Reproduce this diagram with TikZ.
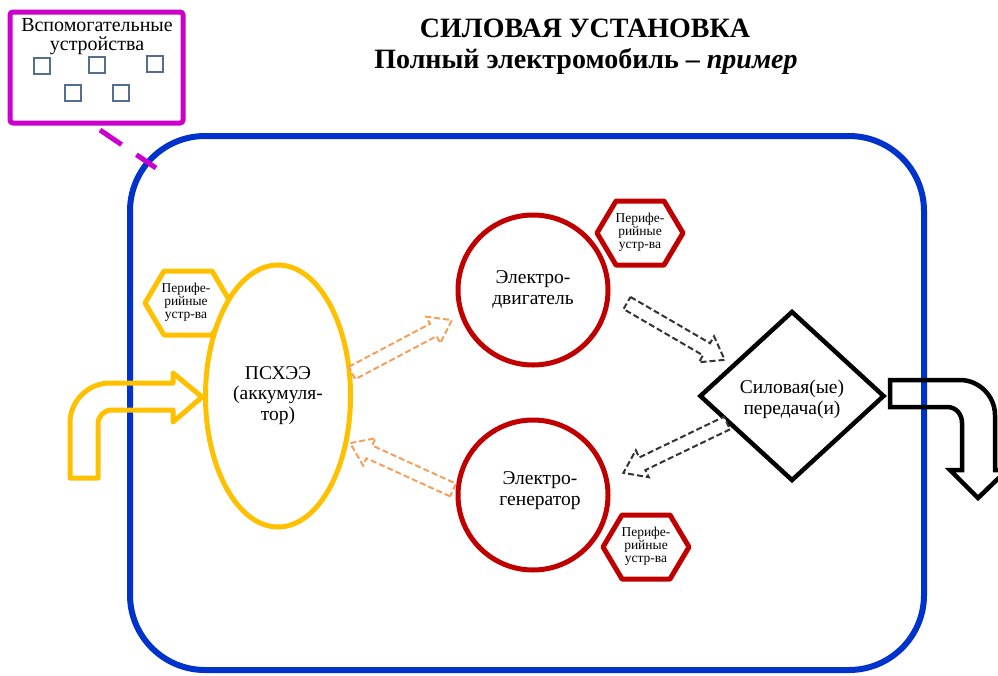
\documentclass[tikz,border=0pt]{standalone}
\usepackage{fontspec}
\setmainfont{Liberation Serif}
\usetikzlibrary{shapes.geometric}
\definecolor{pblue}{RGB}{0,51,204}
\definecolor{pmag}{RGB}{204,0,204}
\definecolor{pyel}{RGB}{255,192,0}
\definecolor{pred}{RGB}{192,0,0}
\definecolor{porange}{RGB}{244,160,90}
\definecolor{pslate}{RGB}{84,110,145}
\begin{document}
\begin{tikzpicture}[x=1pt,y=-1pt,
  lbl/.style={align=center, font=\fontsize{19.5}{20.5}\selectfont, inner sep=0pt, anchor=base},
  hextext/.style={align=center, fill=white, inner sep=1pt, font=\fontsize{13.5}{13.2}\selectfont},
  sq/.style={draw=pslate, line width=2pt, fill=white, minimum size=16pt, inner sep=0pt},
  pics/hexa/.style={code={\draw[line width=5pt, fill=white, line join=round] (-43,0) -- (-24,-32) -- (24,-32) -- (43,0) -- (24,32) -- (-24,32) -- cycle;}},
  pics/harrow/.style={code={\draw[fill=white] (0,-7) -- ({#1-21},-7) -- ({#1-21},-15) -- (#1,0) -- ({#1-21},15) -- ({#1-21},7) -- (0,7) -- cycle;}},
  odash/.style={color=porange, line width=2pt, dash pattern=on 6pt off 3pt},
  kdash/.style={color=black!80, line width=2pt, dash pattern=on 6pt off 3pt}
]
\useasboundingbox (0,0) rectangle (998,675);

% title
\node[anchor=base, font=\fontsize{28}{30}\selectfont\bfseries] (t1) at (585,37) {СИЛОВАЯ УСТАНОВКА};
\node[anchor=base, font=\fontsize{28}{30}\selectfont\bfseries] (t2) at (586,68) {Полный электромобиль – \textit{пример}};

% power unit frame
\node[draw=pblue, line width=6pt, rounded corners=75pt, minimum width=794pt, minimum height=534pt, inner sep=0pt] (pu) at (527,403) {};

% auxiliary devices box
\node[draw=pmag, line width=5pt, rounded corners=3pt, minimum width=173pt, minimum height=111pt, inner sep=0pt] (aux) at (96.5,67.5) {};
\node[anchor=base, align=center, inner sep=0pt, font=\fontsize{20}{18.5}\selectfont] (auxt) at (97,50) {Вспомогательные\\устройства};
\node[sq] (s1) at (42,66) {};
\node[sq] (s2) at (97,65) {};
\node[sq] (s3) at (155,64) {};
\node[sq] (s4) at (73,93) {};
\node[sq] (s5) at (121,93) {};
\coordinate (d1) at (100,130);
\coordinate (d2) at (156,168);
\draw[pmag, line width=5pt, dash pattern=on 26pt off 18pt] (d1) -- (d2);

% battery
\pic[color=pyel] at (188,303) {hexa};
\node[draw=pyel, fill=white, line width=5pt, ellipse, minimum width=145pt, minimum height=262pt, inner sep=0pt] (bat) at (278,396) {};
\node[lbl] (batt) at (278,420) {ПСХЭЭ\\(аккумуля-\\тор)};
\node[hextext] (h1) at (186,302) {Перифе-\\рийные\\устр-ва};

% motor and generator
\node[draw=pred, fill=white, line width=5pt, circle, minimum size=150pt, inner sep=0pt] (mot) at (533,290) {};
\node[draw=pred, fill=white, line width=5pt, circle, minimum size=150pt, inner sep=0pt] (gen) at (533,495) {};
\node[lbl] (mott) at (533,304) {Электро-\\двигатель};
\node[lbl] (gent) at (540,505) {Электро-\\генератор};
\pic[color=pred] at (640,233) {hexa};
\node[hextext] (h2) at (640,232) {Перифе-\\рийные\\устр-ва};
\pic[color=pred] at (646,547) {hexa};
\node[hextext] (h3) at (646,546) {Перифе-\\рийные\\устр-ва};

% transmission
\node[draw, line width=4.5pt, diamond, minimum width=185pt, minimum height=170pt, inner sep=0pt] (tr) at (792,396) {};
\node[lbl] (trt) at (792,414) {Силовая(ые)\\передача(и)};

% energy flow block arrows
\pic[odash, rotate=27.9] at (352,373) {harrow=113};
\pic[odash, rotate=155.5] at (453,490) {harrow=113};
\pic[kdash, rotate=-30.2] at (627,303) {harrow=113};
\pic[kdash, rotate=205.7] at (727,423) {harrow=115};

% input and output arrows
\draw[pyel, line width=5pt, line join=round] (70,478) -- (70,423) .. controls (70,401) and (88,383) .. (110,383) -- (173,383) -- (173,373) -- (202,397) -- (173,422) -- (173,410) -- (112,410) .. controls (104,410) and (98,416) .. (98,424) -- (98,478) -- cycle;
\draw[black, line width=4.5pt, line join=miter] (890,380) -- (960,380) .. controls (979,380) and (995,396) .. (995,415) -- (995,470) -- (1007,470) -- (978,498) -- (950,470) -- (962,470) -- (962,423) .. controls (962,414) and (956,407) .. (947,407) -- (890,407) -- cycle;
\end{tikzpicture}
\end{document}
